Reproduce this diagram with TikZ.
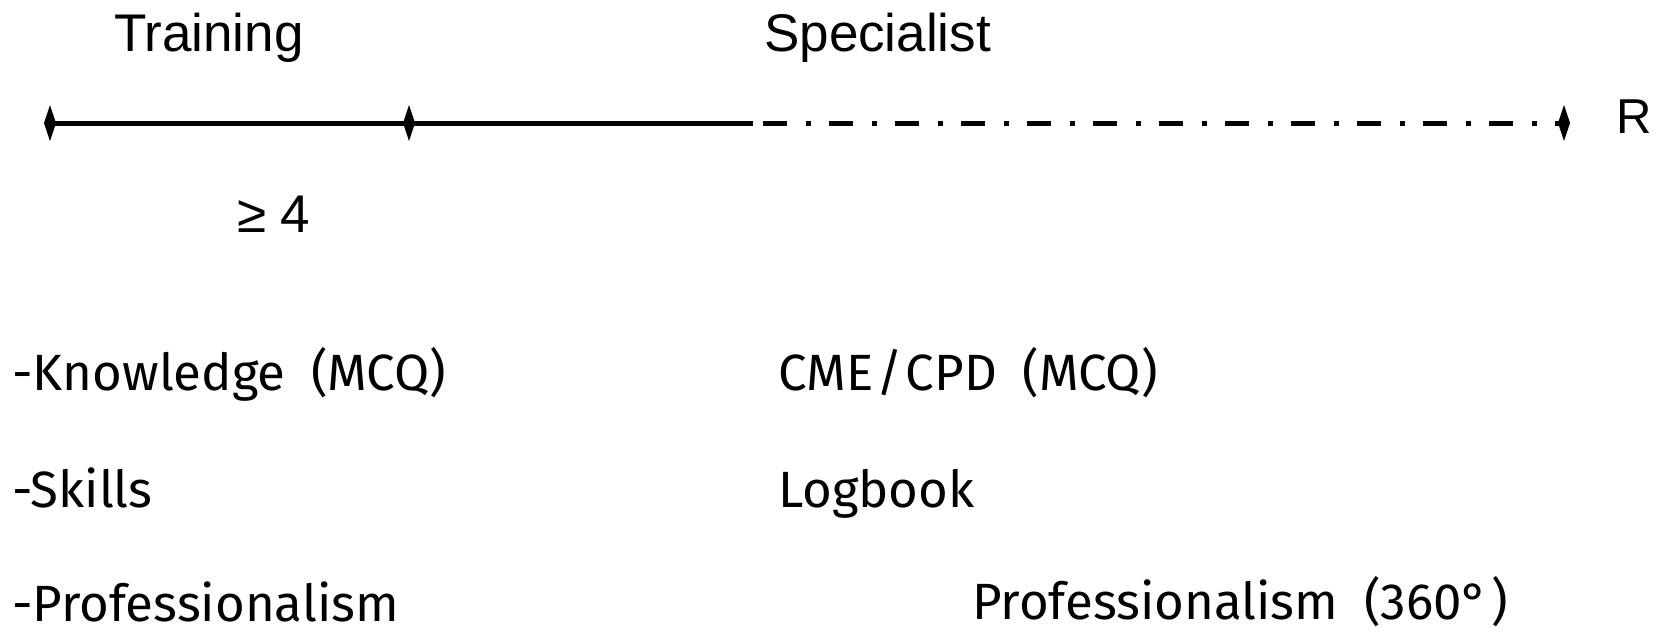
\documentclass[tikz,border=0pt]{standalone}
\usepackage{fontspec}
\setmainfont{Liberation Sans}
\newfontfamily\bodyfont[WordSpace=1.9]{Fira Sans}
\begin{document}
\begin{tikzpicture}[x=1pt,y=-1pt,
  tick/.style={fill=black},
  headlbl/.style={anchor=base west,inner sep=0pt,font=\fontsize{53}{53}\selectfont},
  itemlbl/.style={anchor=base west,inner sep=0pt,font=\bodyfont\fontsize{51}{51}\selectfont},
  axis/.style={line width=5pt},
  dashaxis/.style={line width=5pt,dash pattern=on 24pt off 19pt on 5pt off 18pt}]
\useasboundingbox (0,0) rectangle (1664,633);
% timeline
\coordinate (t0) at (50,123);
\coordinate (t1) at (409,123);
\coordinate (t2) at (1564,123);
\coordinate (solidend) at (753,123);
\coordinate (dashstart) at (763,123);
\draw[axis] (t0) -- (t1) -- (solidend);
\draw[dashaxis] (dashstart) -- (t2);
\foreach \t in {t0,t1,t2}
  \fill[tick] (\t) +(0,-18) -- +(6,0) -- +(0,18) -- +(-6,0) -- cycle;
% headings
\node[headlbl] (training) at (114,51) {Training};
\node[headlbl] (specialist) at (764,51) {Specialist};
\node[headlbl] (ge) at (237,232) {≥ 4};
\node[headlbl,font=\fontsize{49}{49}\selectfont] (r) at (1616,133) {R};
% items
\node[itemlbl] (k) at (12,390) {-Knowledge (MCQ)};
\node[itemlbl] (s) at (12,507) {-Skills};
\node[itemlbl] (p) at (12,621) {-Professionalism};
\node[itemlbl] (cme) at (778,390) {CME\kern3pt/\kern3pt CPD (MCQ)};
\node[itemlbl] (log) at (778,507) {Logbook};
\node[itemlbl] (p2) at (972,619) {Professionalism (360°\kern3pt)};
\end{tikzpicture}
\end{document}
